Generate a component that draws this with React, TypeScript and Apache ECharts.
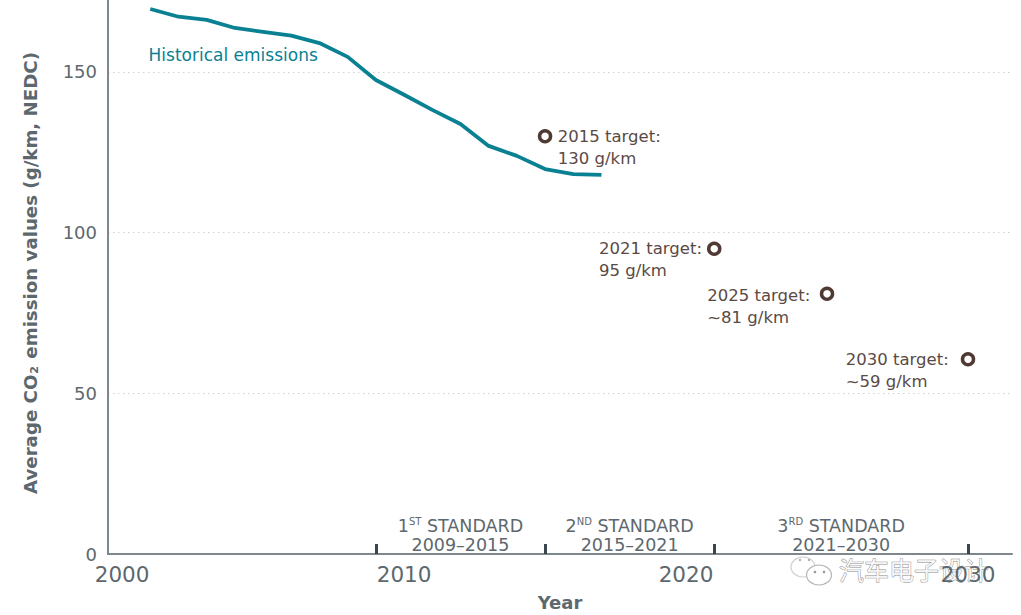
import React, { useEffect, useRef } from "react";
import * as echarts from "echarts";

const FONT = "DejaVu Sans";
const historyYears = [2001, 2002, 2003, 2004, 2005, 2006, 2007, 2008, 2009, 2010, 2011, 2012, 2013, 2014, 2015, 2016, 2017];
const historyValues = [169.6, 167.2, 166.2, 163.7, 162.5, 161.3, 159, 154.7, 147.5, 142.9, 138.2, 133.8, 127, 123.9, 119.8, 118.2, 118];
const historyLabel = "Historical emissions";
const historyLabelPoint = [2003.94, 155.3];
const targetYears = [2015, 2021, 2025, 2030];
const targetValues = [130, 95, 81, 60.6];
const targetLabels = ["2015 target:\n130 g/km", "2021 target:\n95 g/km", "2025 target:\n~81 g/km", "2030 target:\n~59 g/km"];
const standardYears = [2012, 2018, 2025.5];
const standardOrdinals = ["1", "2", "3"];
const standardSuffixes = ["ST", "ND", "RD"];
const standardRanges = ["2009–2015", "2015–2021", "2021–2030"];
const standardTicks = [2009, 2015, 2021, 2030];
const xLabels = [2000, 2010, 2020, 2030];
const yTicks = [0, 50, 100, 150];

const TEAL = "#0a8093";
const BROWN = "#4f3a33";
const GREY = "#5d686e";

export default function App() {
  const ref = useRef<HTMLDivElement>(null);
  useEffect(() => {
    const chart = echarts.init(ref.current!, null, { renderer: "svg" });
    const offsets = [
      [5.5, 11],
      [-122.5, 10.5],
      [-127, 12.5],
      [-129.5, 11.5],
    ];
    chart.setOption({
      animation: false,
      backgroundColor: "#ffffff",
      textStyle: { fontFamily: FONT },
      grid: { left: 108, right: 9, top: 0, bottom: 61, outerBoundsMode: "none" },
      xAxis: {
        type: "value",
        min: 1999.5,
        max: 2031.56,
        name: "Year",
        nameLocation: "middle",
        nameGap: 39,
        nameTextStyle: { color: GREY, fontSize: 18, fontWeight: 700, fontFamily: FONT },
        axisLine: { show: true, onZero: false, lineStyle: { color: "#7d878c", width: 2 } },
        axisTick: { show: true, inside: true, length: 10, customValues: standardTicks, lineStyle: { color: "#38474f", width: 3 } },
        axisLabel: { customValues: xLabels, color: GREY, fontSize: 21.5, margin: 9, fontFamily: FONT, formatter: (v: number) => String(v) },
        splitLine: { show: false },
      },
      yAxis: {
        type: "value",
        min: 0,
        max: 172.4,
        name: "Average CO{sub|2} emission values (g/km, NEDC)",
        nameLocation: "middle",
        nameGap: 68,
        nameRotate: 90,
        nameTextStyle: {
          color: GREY, fontSize: 18.2, fontWeight: 700, fontFamily: FONT, padding: [0, 0, 0, 8],
          rich: { sub: { fontSize: 11, color: GREY, fontWeight: 700, fontFamily: FONT, padding: [8, 1, 0, 1] } },
        },
        axisLine: { show: true, lineStyle: { color: "#7d878c", width: 2 } },
        axisTick: { show: false, customValues: yTicks },
        axisLabel: { customValues: yTicks, color: GREY, fontSize: 18, margin: 11, fontFamily: FONT },
        splitLine: { show: true, lineStyle: { color: "#cdd1d3", type: [1.5, 3.5], width: 1.2 } },
      },
      series: [
        {
          name: "Historical emissions",
          type: "line",
          data: historyYears.map((y, i) => [y, historyValues[i]]),
          symbol: "none",
          lineStyle: { color: TEAL, width: 3.8 },
          z: 3,
        },
        {
          name: "Historical label",
          type: "scatter",
          symbolSize: 0,
          silent: true,
          itemStyle: { opacity: 1 },
          data: [{
            value: historyLabelPoint,
            label: { show: true, formatter: historyLabel, color: TEAL, fontSize: 17, fontFamily: FONT, position: "inside" },
          }],
        },
        {
          name: "Targets",
          type: "scatter",
          symbol: "circle",
          symbolSize: 11,
          itemStyle: { color: "#ffffff", borderColor: BROWN, borderWidth: 3.5, opacity: 1 },
          z: 4,
          data: targetYears.map((y, i) => ({
            value: [y, targetValues[i]],
            label: {
              show: true,
              formatter: targetLabels[i],
              position: "right",
              distance: 0,
              offset: offsets[i],
              align: "left",
              color: "#5a4a44",
              fontSize: 16.5,
              lineHeight: 22,
              fontFamily: FONT,
            },
          })),
        },
        {
          name: "Standards",
          type: "scatter",
          symbolSize: 0,
          silent: true,
          itemStyle: { opacity: 1 },
          data: standardYears.map((y, i) => ({
            value: [y, 0],
            label: {
              show: true,
              position: "top",
              distance: 0,
              formatter: `{o|${standardOrdinals[i]}}{s|${standardSuffixes[i]}}{o| STANDARD}\n{o|${standardRanges[i]}}`,
              rich: {
                o: { color: GREY, fontSize: 17.5, lineHeight: 19, fontFamily: FONT },
                s: { color: GREY, fontSize: 10, lineHeight: 19, verticalAlign: "top", fontFamily: FONT, padding: [0, 0, 6, 0] },
              },
            },
          })),
        },
      ],
      graphic: [
        {
          type: "group",
          silent: true,
          z: 100,
          children: [
            { type: "rect", shape: { x: 936, y: 561, width: 42, height: 24 }, style: { fill: "rgba(255,255,255,0.6)" } },
            { type: "ellipse", shape: { cx: 803, cy: 567, rx: 12, ry: 10 }, style: { fill: "rgba(255,255,255,0.8)", stroke: "#cfcfcf", lineWidth: 1.2 } },
            { type: "ellipse", shape: { cx: 819, cy: 575, rx: 12.5, ry: 10 }, style: { fill: "rgba(255,255,255,0.95)", stroke: "#b5b5b5", lineWidth: 1.2 } },
            { type: "circle", shape: { cx: 800, cy: 560, r: 1.2 }, style: { fill: "#b0b0b0" } },
            { type: "circle", shape: { cx: 809, cy: 560, r: 1.2 }, style: { fill: "#b0b0b0" } },
            { type: "circle", shape: { cx: 815, cy: 572, r: 1.3 }, style: { fill: "#9a9a9a" } },
            { type: "circle", shape: { cx: 824, cy: 572, r: 1.3 }, style: { fill: "#9a9a9a" } },
            {
              type: "text",
              x: 839,
              y: 556,
              style: {
                text: "汽车电子设计",
                fontFamily: "Noto Sans CJK SC",
                fontSize: 25,
                fill: "rgba(255,255,255,0.85)",
                stroke: "#8a8a8a",
                lineWidth: 0.8,
              },
            },
          ],
        },
      ],
    });
    return () => chart.dispose();
  }, []);
  return <div ref={ref} style={{ position: "fixed", left: 0, top: 0, width: 1021, height: 615 }} />;
}
